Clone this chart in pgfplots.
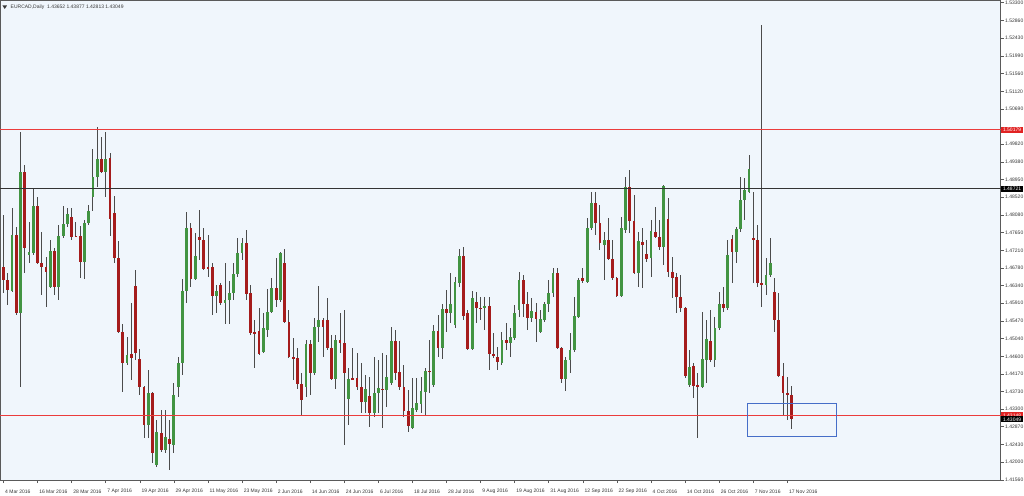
\documentclass[border=0pt]{standalone}
\usepackage{pgfplots}
\pgfplotsset{compat=1.18}
\usepackage{pgfplotstable}
\usepackage{fontspec}
\setmainfont{Liberation Sans}

\definecolor{bgblue}{RGB}{240,246,252}
\definecolor{upc}{RGB}{66,148,66}
\definecolor{dnc}{RGB}{165,28,28}
\definecolor{wickc}{RGB}{75,75,75}
\definecolor{lvlred}{RGB}{235,60,60}
\definecolor{lblred}{RGB}{225,35,35}
\definecolor{boxblue}{RGB}{70,110,200}
\definecolor{axc}{RGB}{90,90,90}
\definecolor{txt}{RGB}{55,55,55}

\pgfplotstableread{
x o h l c
2 1.46218 1.48243 1.46193 1.47587
4 1.45660 1.50129 1.43856 1.49129
6 1.47095 1.47915 1.46890 1.47177
7 1.47152 1.48735 1.47095 1.48309
11 1.46300 1.47464 1.46275 1.47193
13 1.46300 1.47833 1.45988 1.47571
14 1.47571 1.48300 1.47505 1.47858
15 1.47858 1.48243 1.47792 1.48104
19 1.46931 1.47956 1.46496 1.47874
20 1.47874 1.48325 1.47833 1.48186
21 1.48514 1.49694 1.48186 1.49006
22 1.49006 1.50236 1.48776 1.49457
24 1.49129 1.50113 1.48514 1.49457
29 1.44430 1.45070 1.44389 1.44635
34 1.42913 1.44266 1.42585 1.43692
36 1.41929 1.43036 1.41888 1.42749
38 1.42298 1.43282 1.42216 1.42610
40 1.42421 1.43938 1.42216 1.43651
41 1.43856 1.44594 1.43594 1.44430
42 1.44430 1.46496 1.44143 1.46218
43 1.46218 1.48161 1.45922 1.47751
45 1.46496 1.47628 1.46480 1.47070
50 1.46086 1.46357 1.45660 1.46218
52 1.45906 1.46890 1.45398 1.45988
53 1.45988 1.46464 1.45398 1.46152
54 1.46152 1.46890 1.45988 1.46628
55 1.46628 1.47505 1.46562 1.47136
56 1.47136 1.47505 1.46972 1.47398
61 1.44717 1.45660 1.44676 1.45291
62 1.45250 1.46250 1.45086 1.45685
63 1.45685 1.46521 1.45660 1.46275
65 1.45988 1.47177 1.45947 1.47136
71 1.43856 1.45004 1.43610 1.44906
73 1.44184 1.45537 1.44143 1.45332
74 1.45332 1.46332 1.44963 1.45496
78 1.44036 1.45127 1.43791 1.45004
81 1.43544 1.44307 1.42913 1.44036
85 1.43487 1.44143 1.43200 1.43791
87 1.43200 1.44594 1.43118 1.43692
88 1.43692 1.44512 1.43200 1.43815
90 1.43774 1.44635 1.43364 1.44102
91 1.43938 1.45332 1.43897 1.44988
96 1.42831 1.44061 1.42806 1.43323
97 1.43282 1.44061 1.43241 1.43446
98 1.43430 1.44102 1.43200 1.43758
99 1.43733 1.44307 1.43159 1.44250
101 1.43897 1.45373 1.43856 1.45234
103 1.44799 1.45890 1.44528 1.45758
105 1.45660 1.46644 1.45414 1.45890
106 1.45373 1.46562 1.45291 1.46439
107 1.46398 1.47234 1.46316 1.47070
110 1.44774 1.46218 1.44758 1.46029
113 1.45783 1.46070 1.45250 1.45840
117 1.44430 1.45209 1.44389 1.45004
119 1.44922 1.45291 1.44578 1.45070
120 1.45045 1.45865 1.45004 1.45660
121 1.45742 1.46685 1.45578 1.46480
124 1.45537 1.46029 1.45455 1.45726
126 1.45209 1.45742 1.45168 1.45512
127 1.45496 1.45947 1.45455 1.45890
128 1.45890 1.46480 1.45701 1.46168
129 1.46152 1.46767 1.46070 1.46644
132 1.44036 1.44594 1.43758 1.44512
133 1.44512 1.45168 1.44184 1.44758
134 1.44758 1.46070 1.44717 1.45603
135 1.45578 1.46521 1.45537 1.46480
137 1.46439 1.47997 1.46398 1.47751
138 1.47751 1.48653 1.47710 1.48366
141 1.47341 1.47669 1.46480 1.47464
145 1.46095 1.48038 1.46070 1.47751
146 1.47710 1.49006 1.47628 1.48776
149 1.46660 1.47669 1.46316 1.47448
152 1.47013 1.47956 1.46562 1.47694
155 1.47284 1.48817 1.46849 1.48792
161 1.43897 1.44758 1.43856 1.44348
164 1.43856 1.45701 1.43815 1.44528
165 1.44512 1.45496 1.43938 1.45020
167 1.44512 1.45578 1.44348 1.45291
168 1.45291 1.46193 1.45250 1.45890
170 1.45783 1.47464 1.45742 1.47095
172 1.47177 1.47792 1.46890 1.47726
173 1.47726 1.49022 1.47669 1.48448
174 1.48448 1.48981 1.47956 1.48694
175 1.48653 1.49555 1.48612 1.49202
179 1.46357 1.47013 1.46111 1.46603
180 1.46603 1.47505 1.46562 1.46890
}\up

\pgfplotstableread{
x o h l c
0 1.46808 1.48079 1.46152 1.46480
1 1.46480 1.46644 1.45865 1.46234
3 1.47587 1.47792 1.45619 1.45660
5 1.49129 1.49309 1.46644 1.47275
8 1.48309 1.48514 1.46874 1.46890
9 1.46906 1.47669 1.46111 1.46808
10 1.46808 1.47054 1.45824 1.46685
12 1.47193 1.47259 1.46111 1.46316
16 1.48022 1.48243 1.47464 1.47546
17 1.47571 1.47915 1.47530 1.47546
18 1.47562 1.47808 1.46521 1.46931
23 1.49457 1.50006 1.49104 1.49129
25 1.49473 1.49596 1.47562 1.47972
26 1.48136 1.48546 1.46906 1.47029
27 1.47029 1.47448 1.45168 1.45209
28 1.45209 1.45398 1.43733 1.44430
30 1.44651 1.45906 1.44020 1.44553
31 1.46341 1.46726 1.44512 1.44676
32 1.44528 1.44774 1.43651 1.43856
33 1.43856 1.43872 1.42585 1.42913
35 1.43692 1.43733 1.41970 1.42216
37 1.42724 1.43282 1.42257 1.42298
39 1.42569 1.43036 1.41806 1.42446
44 1.47751 1.47874 1.46316 1.46496
46 1.47546 1.48202 1.46972 1.47464
47 1.47464 1.47751 1.46726 1.46742
48 1.46808 1.47587 1.46562 1.46767
49 1.46792 1.46890 1.45619 1.46086
51 1.46357 1.46414 1.45865 1.45906
57 1.47398 1.47710 1.45988 1.46136
58 1.46152 1.46357 1.45127 1.45168
59 1.45209 1.45496 1.44307 1.45168
60 1.45225 1.45783 1.44635 1.44660
64 1.46275 1.47013 1.45824 1.45988
66 1.46890 1.47243 1.45430 1.45455
67 1.45455 1.45742 1.44553 1.44578
68 1.44594 1.45045 1.44020 1.44553
69 1.44553 1.44799 1.43791 1.43914
70 1.43914 1.44184 1.43143 1.43528
72 1.44906 1.45004 1.43651 1.44184
75 1.45496 1.45537 1.44578 1.45332
76 1.45496 1.46029 1.44758 1.44799
77 1.44799 1.45127 1.44020 1.44036
79 1.45004 1.45660 1.44676 1.44922
80 1.44922 1.45742 1.42421 1.44184
82 1.44061 1.44799 1.44020 1.44036
83 1.44061 1.44676 1.43774 1.43840
84 1.43840 1.44430 1.43200 1.43487
86 1.43626 1.44102 1.42872 1.43200
89 1.43807 1.44676 1.42831 1.43774
92 1.44988 1.45250 1.44020 1.44201
93 1.44225 1.44988 1.43774 1.43840
94 1.43840 1.44389 1.43118 1.43266
95 1.43266 1.43774 1.42749 1.42888
100 1.44250 1.45004 1.43692 1.44225
102 1.45234 1.45619 1.44594 1.44799
104 1.45758 1.46234 1.45209 1.45660
108 1.47070 1.47284 1.45496 1.45603
109 1.45660 1.45742 1.44758 1.44774
111 1.45947 1.46193 1.45414 1.45783
112 1.45799 1.46070 1.45496 1.45775
114 1.45840 1.46070 1.44266 1.44660
115 1.44660 1.45168 1.44553 1.44635
116 1.44578 1.44840 1.44266 1.44471
118 1.45004 1.45414 1.44758 1.44922
122 1.46480 1.46603 1.45562 1.45890
123 1.45890 1.46193 1.45250 1.45537
125 1.45701 1.45906 1.44963 1.45512
130 1.46644 1.46767 1.44774 1.44799
131 1.44799 1.44840 1.43938 1.44036
136 1.46521 1.46767 1.46398 1.46456
139 1.48366 1.48653 1.47587 1.47874
140 1.47874 1.48325 1.47218 1.47382
142 1.47464 1.47997 1.46972 1.46988
143 1.46988 1.47464 1.46480 1.46521
144 1.46521 1.46562 1.46070 1.46095
147 1.48776 1.49186 1.47628 1.47931
148 1.47931 1.48571 1.46628 1.46660
150 1.47407 1.47751 1.46275 1.47341
151 1.47120 1.47464 1.46931 1.46988
153 1.47669 1.48284 1.47505 1.47546
154 1.47546 1.47956 1.47218 1.47284
156 1.47972 1.48489 1.46562 1.46685
157 1.46669 1.47038 1.46029 1.46538
158 1.46562 1.46644 1.45660 1.46070
159 1.46070 1.46603 1.45701 1.45783
160 1.45783 1.45824 1.44061 1.44118
162 1.44364 1.44430 1.43569 1.43872
163 1.43897 1.44184 1.42585 1.43856
166 1.44988 1.45742 1.44471 1.44512
169 1.45890 1.46316 1.45701 1.45783
171 1.47480 1.47587 1.46398 1.47177
176 1.47505 1.48653 1.46398 1.47464
177 1.47464 1.47833 1.46316 1.46398
178 1.46398 1.52753 1.45824 1.46357
181 1.46193 1.46521 1.45209 1.45496
182 1.45496 1.46152 1.44102 1.44118
183 1.44118 1.44430 1.43159 1.43692
184 1.43692 1.44102 1.43036 1.43651
185 1.43652 1.43877 1.42813 1.43049
}\dn

\begin{document}
\begin{tikzpicture}
\path[use as bounding box, fill=white] (-0.5pt,-15pt) rectangle (1023.5pt,480pt);
\begin{axis}[
  at={(0pt,0pt)}, anchor=south west,
  scale only axis, width=1000pt, height=480pt,
  xmin=-0.7, xmax=234.04, ymin=1.4156, ymax=1.53368,
  axis background/.style={fill=bgblue},
  axis line style={draw=axc, line width=0.8pt},
  xtick={0,8,...,184},
  xticklabels={4 Mar 2016,16 Mar 2016,28 Mar 2016,7 Apr 2016,19 Apr 2016,29 Apr 2016,11 May 2016,23 May 2016,2 Jun 2016,14 Jun 2016,24 Jun 2016,6 Jul 2016,18 Jul 2016,28 Jul 2016,9 Aug 2016,19 Aug 2016,31 Aug 2016,12 Sep 2016,22 Sep 2016,4 Oct 2016,14 Oct 2016,26 Oct 2016,7 Nov 2016,17 Nov 2016},
  ytick={1.41560,1.42000,1.42430,1.42870,1.43300,1.43730,1.44170,1.44600,1.45040,1.45470,1.45910,1.46340,1.46780,1.47210,1.47650,1.48080,1.48520,1.48950,1.49380,1.49820,1.50690,1.51120,1.51560,1.51990,1.52430,1.52860,1.53300},
  yticklabels={1.41560,1.42000,1.42430,1.42870,1.43300,1.43730,1.44170,1.44600,1.45040,1.45470,1.45910,1.46340,1.46780,1.47210,1.47650,1.48080,1.48520,1.48950,1.49380,1.49820,1.50690,1.51120,1.51560,1.51990,1.52430,1.52860,1.53300},
  xtick pos=bottom, ytick pos=right, yticklabel pos=right,
  tick align=outside, major tick length=3pt,
  tick style={draw=axc, line width=0.6pt},
  xticklabel style={anchor=west, yshift=-8.5pt, xshift=1pt, inner sep=0.5pt, font=\fontsize{5}{6}\selectfont, text=txt},
  yticklabel style={anchor=west, xshift=0.5pt, inner sep=1pt, font=\fontsize{5}{6}\selectfont, text=txt},
  candle/.style={draw=none, mark=none, forget plot,
    error bars/.cd, y dir=both, y explicit, error mark=none},
]
% wicks
\addplot[candle, error bar style={draw=wickc, line width=0.9pt}]
  table[x=x, y expr={(\thisrow{h}+\thisrow{l})/2}, y error expr={(\thisrow{h}-\thisrow{l})/2}] {\up};
\addplot[candle, error bar style={draw=wickc, line width=0.9pt}]
  table[x=x, y expr={(\thisrow{h}+\thisrow{l})/2}, y error expr={(\thisrow{h}-\thisrow{l})/2}] {\dn};
% bodies
\addplot[candle, error bar style={draw=upc, line width=2.8pt}]
  table[x=x, y expr={(\thisrow{o}+\thisrow{c})/2}, y error expr={(\thisrow{c}-\thisrow{o})/2}] {\up};
\addplot[candle, error bar style={draw=dnc, line width=2.8pt}]
  table[x=x, y expr={(\thisrow{o}+\thisrow{c})/2}, y error expr={(\thisrow{o}-\thisrow{c})/2}] {\dn};
\coordinate (La0) at (axis cs:-0.7,1.50179);
\coordinate (La) at (axis cs:234.04,1.50179);
\coordinate (Lb0) at (axis cs:-0.7,1.48721);
\coordinate (Lb) at (axis cs:234.04,1.48721);
\coordinate (Lc0) at (axis cs:-0.7,1.43148);
\coordinate (Lc) at (axis cs:234.04,1.43148);
\coordinate (Ld) at (axis cs:234.04,1.43049);
\coordinate (B1) at (axis cs:174.7,1.43447);
\coordinate (B2) at (axis cs:195.5,1.42625);
\end{axis}
\draw[color=lvlred, line width=1.2pt] (La0) -- (La);
\draw[color=black!80, line width=0.9pt] (Lb0) -- (Lb);
\draw[color=lvlred, line width=1.2pt] (Lc0) -- (Lc);
\draw[color=boxblue, line width=1.3pt] (B1) rectangle (B2);
\tikzset{lbl/.style={anchor=west, text=white, inner xsep=1.8pt, inner ysep=1.2pt, text height=3.6pt, text depth=0pt, font=\fontsize{5}{5}\selectfont}}
\node[lbl, fill=lblred] at ([xshift=0.5pt]La) {1.50179};
\node[lbl, fill=black] at ([xshift=0.5pt]Lb) {1.48721};
\node[lbl, fill=lblred] at ([xshift=0.5pt]Lc) {1.43148};
\node[lbl, fill=black] at ([xshift=0.5pt]Ld) {1.43049};
\fill[txt] (2pt,474.5pt) -- (6.5pt,474.5pt) -- (4.25pt,471pt) -- cycle;
\node[anchor=west, inner sep=0pt, text=txt, font=\fontsize{5}{6}\selectfont] at (10pt,473pt) {EURCAD,Daily\ \ 1.43652 1.43877 1.42813 1.43049};
\end{tikzpicture}
\end{document}
